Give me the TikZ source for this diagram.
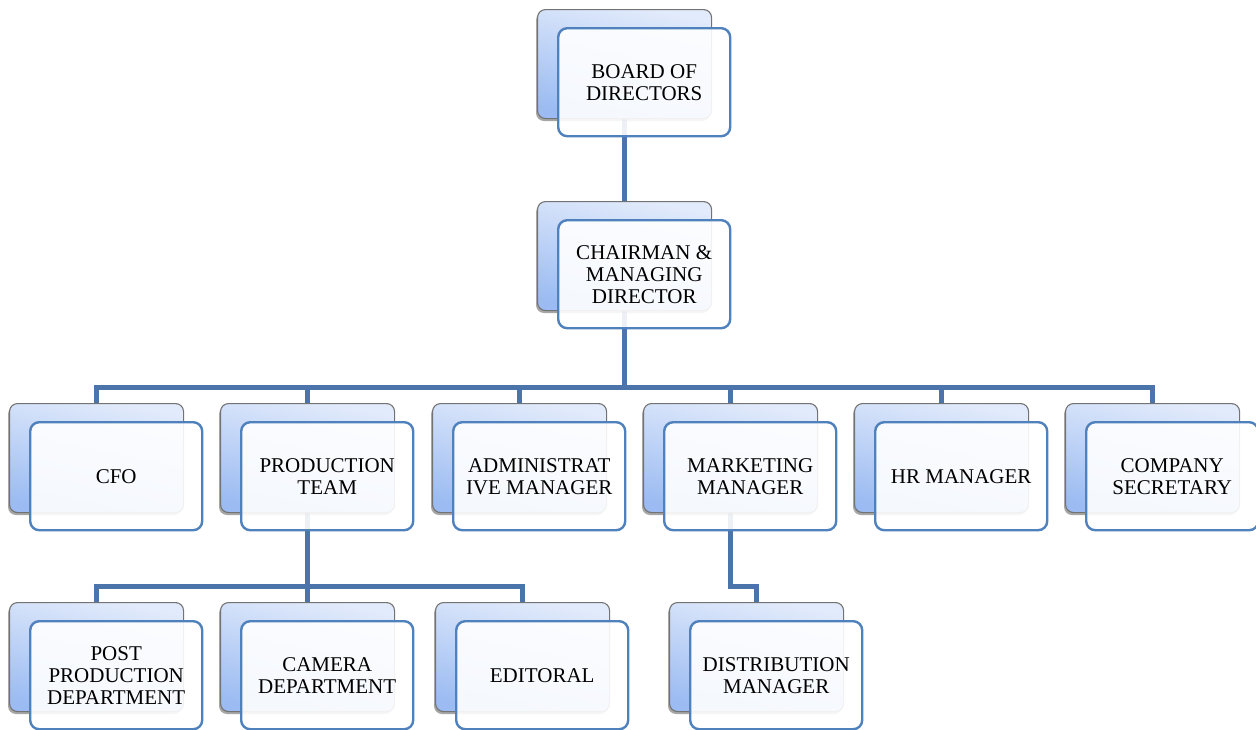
\documentclass[tikz,border=0pt]{standalone}
\usepackage{fontspec}
\setmainfont{Liberation Serif}
\usetikzlibrary{shadows,backgrounds}
\definecolor{connc}{RGB}{74,116,170}
\definecolor{frontc}{RGB}{79,129,189}
\definecolor{backtop}{RGB}{226,235,251}
\definecolor{backbot}{RGB}{155,187,242}
\tikzset{
  conn/.style={draw=connc, line width=5pt},
  backbox/.style={draw=gray!90!black, line width=1.1pt, rounded corners=8pt,
    top color=backtop, bottom color=backbot, shading angle=-12,
    minimum width=174pt, minimum height=109pt, inner sep=0pt,
    drop shadow={shadow xshift=-1.5pt, shadow yshift=-2.5pt, opacity=0.35, fill=black}},
  frontbox/.style={draw=frontc, line width=2.4pt, rounded corners=9pt,
    fill=white, fill opacity=0.9, text opacity=1,
    minimum width=172pt, minimum height=108pt, inner sep=0pt, align=center,
    font=\fontsize{21pt}{22pt}\selectfont}
}
\newcommand\orgnode[4]{%
  \node[backbox, anchor=north west] (#1back) at (#2,#3) {};
  \node[frontbox, anchor=north west] (#1) at (#2+20,#3+18) {#4};
}
\begin{document}
\begin{tikzpicture}[x=1pt,y=-1pt]
\useasboundingbox (0,0) rectangle (1256,729);
\orgnode{board}{537}{9}{BOARD OF\\DIRECTORS}
\orgnode{chair}{537}{201}{CHAIRMAN \&\\MANAGING\\DIRECTOR}
\orgnode{cfo}{9}{403}{CFO}
\orgnode{prod}{220}{403}{PRODUCTION\\TEAM}
\orgnode{admin}{432}{403}{ADMINISTRAT\\IVE MANAGER}
\orgnode{mkt}{643}{403}{MARKETING\\MANAGER}
\orgnode{hr}{854}{403}{HR MANAGER}
\orgnode{sec}{1065}{403}{COMPANY\\SECRETARY}
\orgnode{post}{9}{602}{POST\\PRODUCTION\\DEPARTMENT}
\orgnode{camera}{220}{602}{CAMERA\\DEPARTMENT}
\orgnode{edit}{435}{602}{EDITORAL}
\orgnode{dist}{669}{602}{DISTRIBUTION\\MANAGER}
\coordinate (bus) at (0,387);
\coordinate (bustwo) at (0,586);
\begin{scope}[on background layer]
\draw[conn] (boardback.south) -- (chairback.north);
\foreach \c in {cfo,prod,admin,mkt,hr,sec}
  \draw[conn] (chairback.south) -- (chairback.south |- bus) -| (\c back.north);
\foreach \c in {post,camera,edit}
  \draw[conn] (prodback.south) -- (prodback.south |- bustwo) -| (\c back.north);
\draw[conn] (mktback.south) -- (mktback.south |- bustwo) -| (distback.north);
\end{scope}
\end{tikzpicture}
\end{document}
